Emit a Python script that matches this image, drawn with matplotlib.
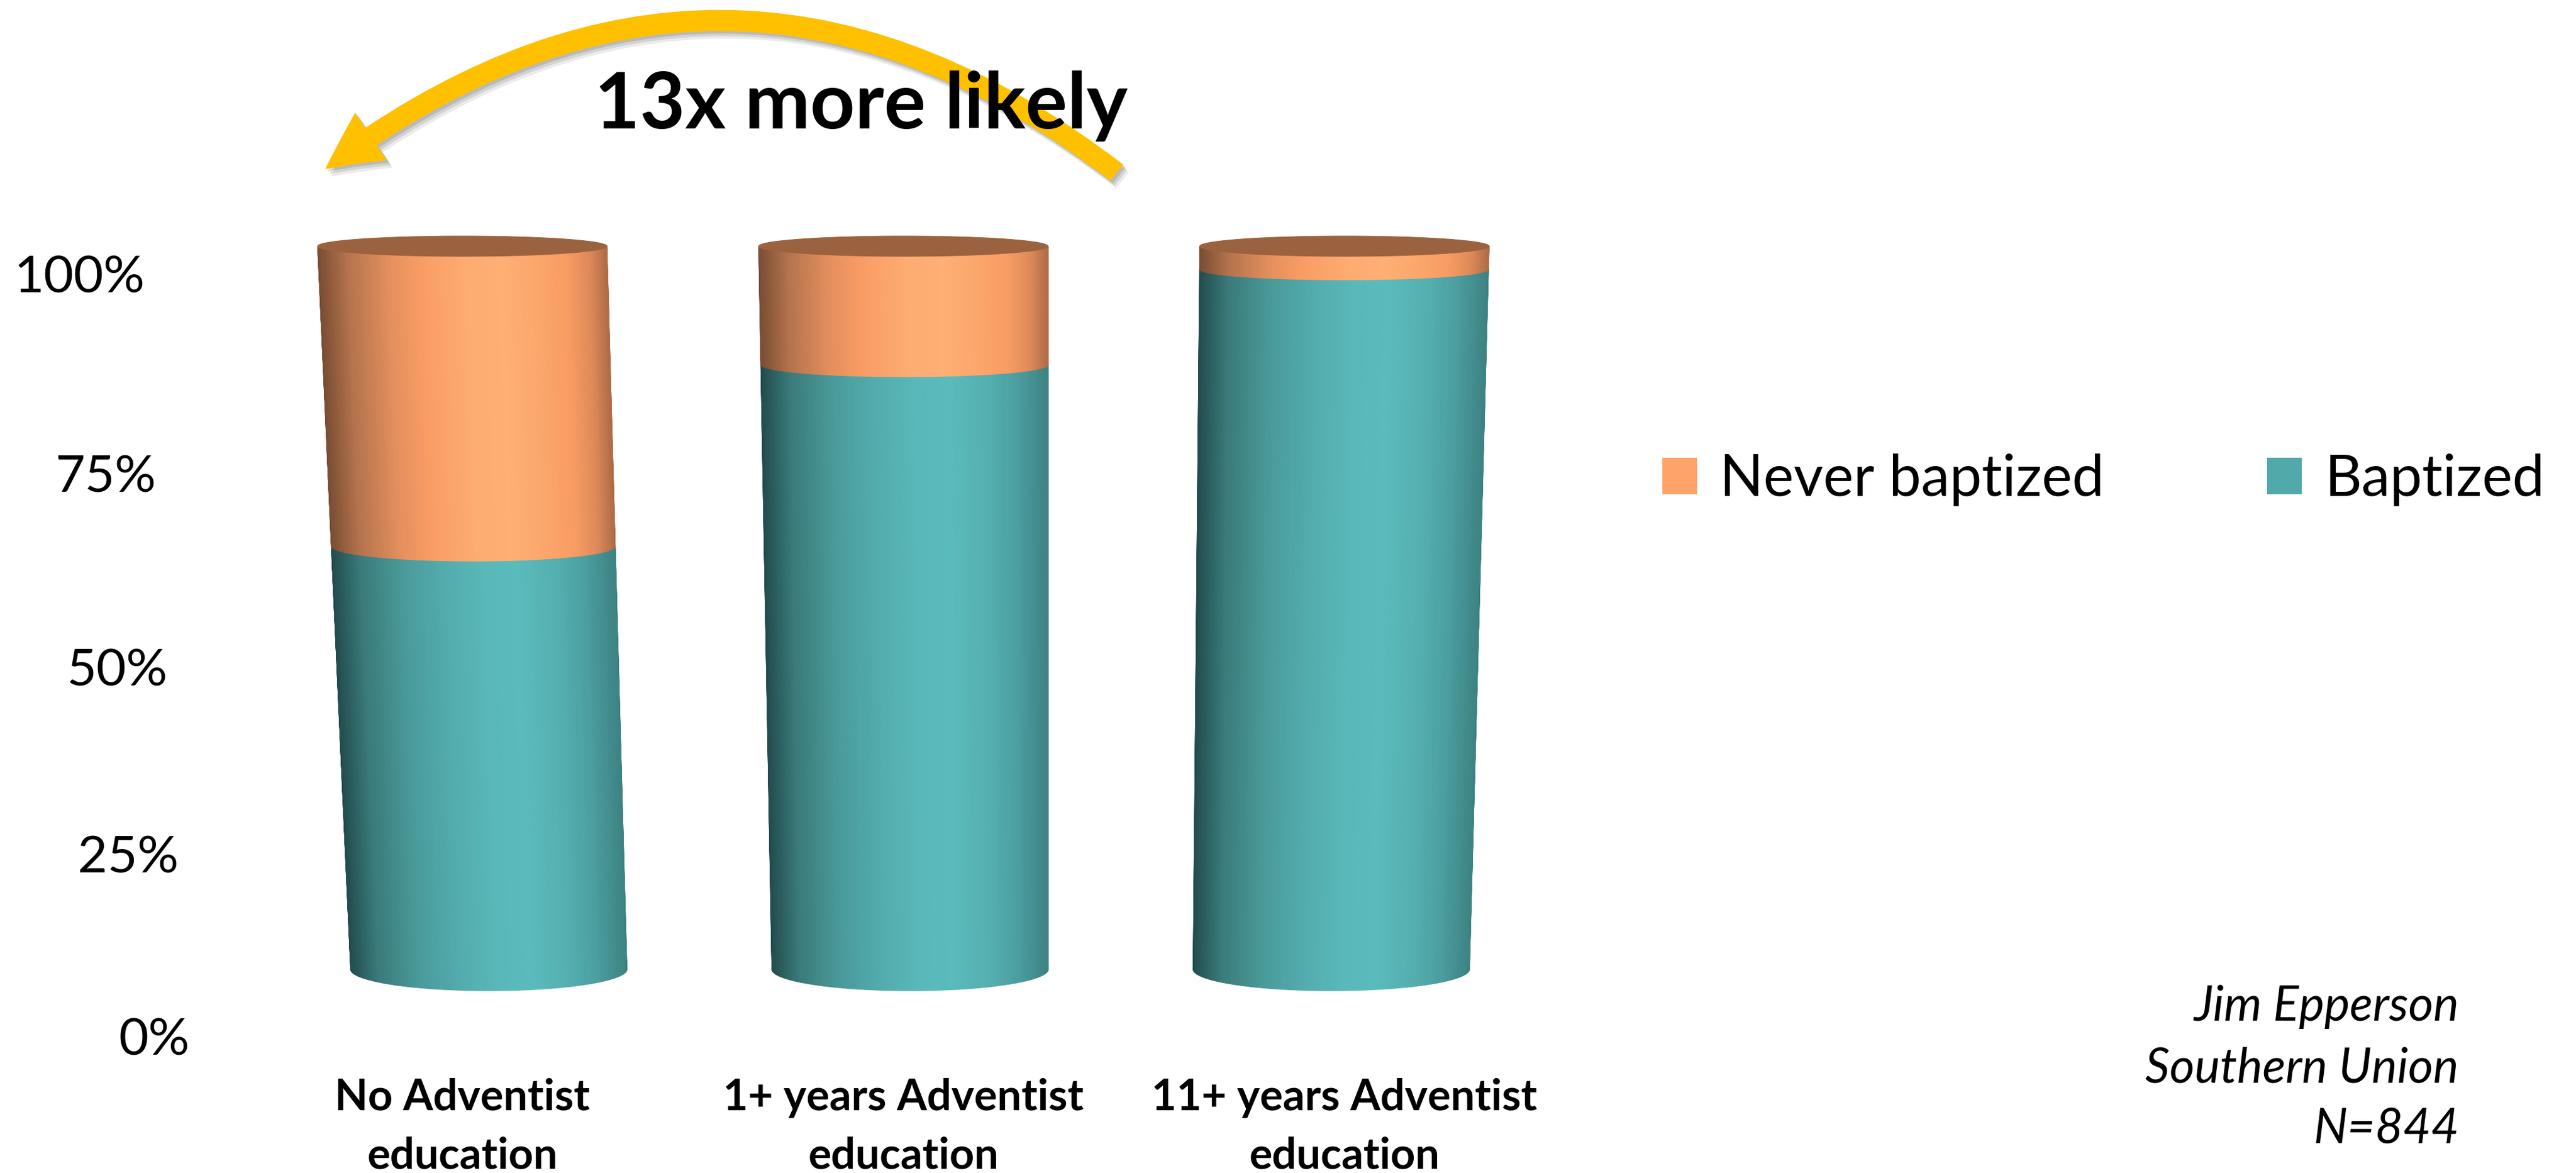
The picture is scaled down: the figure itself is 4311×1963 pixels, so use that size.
import numpy as np
import matplotlib
matplotlib.use("Agg")
import matplotlib.pyplot as plt
import matplotlib.patheffects as pe
from matplotlib.collections import PolyCollection
from matplotlib.colors import LinearSegmentedColormap
from matplotlib.patches import Polygon, Patch, FancyArrowPatch, ArrowStyle

plt.rcParams['font.family'] = ['Lato', 'DejaVu Sans']

# data (percent of each group)
categories = ['No Adventist\neducation', '1+ years Adventist\neducation', '11+ years Adventist\neducation']
baptized = [58.5, 83.6, 96.8]
never_baptized = [41.5, 16.4, 3.2]
series_names = ['Never baptized', 'Baptized']
tick_values = [0, 25, 50, 75, 100]
tick_labels = ['0%', '25%', '50%', '75%', '100%']
headline = '13x more likely'
credit = ['Jim Epperson', 'Southern Union', 'N=844']

W, H = 4311, 1963
fig = plt.figure(figsize=(W / 100, H / 100), dpi=100)
fig.patch.set_facecolor('white')

# front plane: x = category index, y = percent
ax = fig.add_axes([0, 0, 1, 1])
ax.set_xlim(-818 / 705, (W - 818) / 705)
ax.set_ylim(-341 / 12.1, (H - 341) / 12.1)
ax.axis('off')

# mild perspective like the 3-D original
X0 = (1761 - 818) / 705
K = 0.047
RADIUS = 0.328


def warp(x, v):
    return X0 + (np.asarray(x) - X0) * (1 + K * np.asarray(v) / 100)


def semi_minor(v):
    return (36 - 19 * v / 100) / 12.1


orange_cmap = LinearSegmentedColormap.from_list('orange', [
    (0.0, '#7a4d33'), (0.1, '#b3734d'), (0.25, '#e6905e'), (0.36, '#f99d65'),
    (0.52, '#fdac72'), (0.64, '#feaf74'), (0.76, '#fba66c'), (0.86, '#f89c63'),
    (0.94, '#df8a5a'), (1.0, '#b06c47')])
teal_cmap = LinearSegmentedColormap.from_list('teal', [
    (0.0, '#224c4d'), (0.1, '#3a7a7a'), (0.25, '#4a9a9a'), (0.4, '#53acad'),
    (0.55, '#59b9ba'), (0.66, '#5abbbc'), (0.8, '#54aeaf'), (0.9, '#4b9d9e'),
    (1.0, '#3d8383')])
top_color = '#9b623f'
legend_colors = ['#fea46a', '#52a9aa']


def side_strips(xc, lo, hi, cmap, n=140):
    th = np.linspace(0, np.pi, n + 1)
    xs = xc - RADIUS * np.cos(th)
    y_lo = lo - semi_minor(lo) * np.sin(th)
    y_hi = hi - semi_minor(hi) * np.sin(th)
    x_lo = warp(xs, lo)
    x_hi = warp(xs, hi)
    verts = [[(x_lo[j], y_lo[j]), (x_lo[j + 1], y_lo[j + 1]),
              (x_hi[j + 1], y_hi[j + 1]), (x_hi[j], y_hi[j])] for j in range(n)]
    u = (1 - np.cos(0.5 * (th[:-1] + th[1:]))) / 2
    cols = cmap(u)
    ax.add_collection(PolyCollection(verts, facecolors=cols, edgecolors=cols,
                                     linewidths=0.8, zorder=2))


for i in range(len(categories)):
    low = 0
    for vals, cmap in [(baptized, teal_cmap), (never_baptized, orange_cmap)]:
        side_strips(i, low, low + vals[i], cmap)
        low += vals[i]
    phi = np.linspace(0, 2 * np.pi, 300)
    ex = warp(i + RADIUS * np.cos(phi), low)
    ey = low + semi_minor(low) * np.sin(phi)
    ax.add_patch(Polygon(np.column_stack([ex, ey]), closed=True, fc=top_color,
                         ec=top_color, lw=0.8, zorder=3))

# category labels, two lines each, on the front floor edge
for i, cat in enumerate(categories):
    for k, line in enumerate(cat.split('\n')):
        ax.text(float(warp(i, 100)), (105 - 97 * k - 341) / 12.1, line,
                ha='center', va='baseline', fontsize=52, fontweight='bold')

# back wall value axis (perspective spacing)
C = 0.000609
wall = fig.add_axes([0, 198 / H, 1, 1276 / H])
wall.set_yscale('function', functions=(lambda v: v / (1 - C * v), lambda f: f / (1 + C * f)))
wall.set_ylim(0, 100)
wall.set_xlim(0, W)
wall.axis('off')
for v, lab in zip(tick_values, tick_labels):
    wall.text(317 + (243 - 317) * v / 100, v, lab, ha='right', va='baseline', fontsize=62)

# legend
handles = [Patch(fc=c, ec='none') for c in legend_colors]
fig.legend(handles, series_names, ncol=2, loc='center left',
           bbox_to_anchor=(2782 / W, 1160 / H), frameon=False, fontsize=69,
           handlelength=0.6, handleheight=0.6, handletextpad=0.4,
           columnspacing=2.85, borderpad=0, borderaxespad=0)

# curved arrow and headline
arrow = FancyArrowPatch((1869 / W, 1674 / H), (544 / W, 1680 / H),
                        transform=fig.transFigure,
                        connectionstyle='arc3,rad=0.38',
                        arrowstyle=ArrowStyle.Simple(head_length=0.68, head_width=0.69, tail_width=0.25),
                        mutation_scale=100, shrinkA=0, shrinkB=0,
                        fc='#ffc000', ec='none', zorder=4)
arrow.set_path_effects([
    pe.SimplePatchShadow(offset=(7, -9), shadow_rgbFace='k', alpha=0.08),
    pe.SimplePatchShadow(offset=(5, -6), shadow_rgbFace='k', alpha=0.1),
    pe.SimplePatchShadow(offset=(3, -3), shadow_rgbFace='k', alpha=0.12),
    pe.Normal()])
fig.add_artist(arrow)
fig.text(995 / W, 1748 / H, headline, ha='left', va='baseline', fontsize=94,
         fontweight='bold', zorder=6)

# credit block
for k, line in enumerate(credit):
    fig.text(4115 / W, (1963 - 1708 - 103 * k) / H, line, ha='right', va='baseline',
             fontsize=58, fontstyle='italic')

fig.savefig('out.png', dpi=100, facecolor='white')
